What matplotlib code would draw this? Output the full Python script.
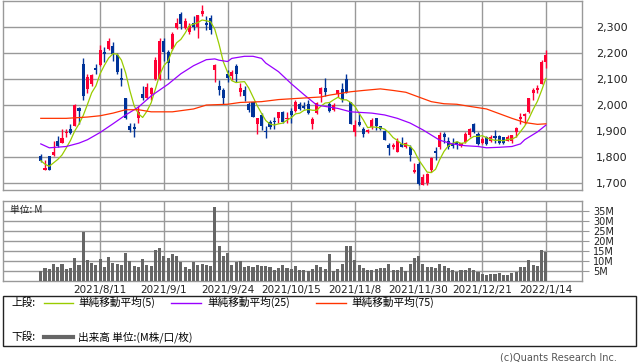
import matplotlib
matplotlib.use("Agg")
import matplotlib.pyplot as plt
from matplotlib.lines import Line2D
from matplotlib.patches import Rectangle
import numpy as np
import pandas as pd

# ---------------- data ----------------
opens = [1805,1751,1803,1808,1862,1856,1892,1910,1921,1987,
         2159,2062,2079,2141,2154,2205,2215,2228,2192,2105,
         2028,1921,1915,1949,2044,2026,2044,2100,2100,2246,
         2203,2215,2295,2351,2295,2282,2313,2300,2349,2313,
         2333,2136,2074,2056,2121,2113,2151,2049,2056,2005,
         2013,1928,1962,1900,1936,1938,1951,1972,1946,1977,
         1977,2005,1995,2005,1926,1969,2041,2067,2005,1982,
         2044,2062,2100,2010,1895,1936,1908,1895,1915,1951,
         1918,1900,1846,1838,1821,1851,1841,1841,1744,1772,
         1695,1700,1749,1823,1841,1890,1862,1856,1859,1844,
         1859,1885,1926,1890,1856,1877,1862,1882,1882,1877,
         1864,1864,1895,1946,1959,1972,2046,2059,2082,2164]
highs = [1813,1790,1806,1862,1880,1908,1908,1928,2005,1992,
         2179,2121,2121,2156,2231,2221,2256,2241,2200,2144,
         2028,1931,1931,1995,2074,2085,2069,2185,2256,2256,
         2213,2282,2333,2356,2333,2315,2341,2344,2382,2341,
         2344,2159,2097,2067,2136,2136,2156,2085,2074,2013,
         2013,1949,1969,1921,1941,1954,1974,1977,1974,1987,
         2018,2010,2010,2021,1956,2013,2069,2105,2010,2008,
         2059,2085,2121,2013,1941,1969,1915,1908,1949,1951,
         1921,1905,1856,1854,1872,1879,1859,1846,1777,1782,
         1736,1738,1800,1841,1895,1897,1877,1872,1864,1856,
         1897,1913,1933,1895,1879,1882,1885,1905,1887,1879,
         1885,1887,1915,1969,1969,2028,2067,2077,2172,2210]
lows = [1783,1749,1749,1803,1841,1854,1877,1890,1918,1928,
        2018,2046,2074,2121,2151,2164,2213,2169,2121,2074,
        1946,1897,1879,1933,2021,2023,2021,2097,2097,2169,
        2100,2213,2292,2292,2290,2272,2287,2256,2341,2287,
        2272,2087,2038,2005,2090,2095,2090,2033,2015,1974,
        1954,1890,1905,1872,1910,1910,1933,1933,1933,1933,
        1972,1980,1985,1964,1910,1967,2013,2033,1972,1977,
        2031,2010,2046,1926,1882,1918,1879,1892,1910,1905,
        1905,1867,1810,1833,1818,1838,1836,1787,1738,1695,
        1692,1692,1744,1790,1833,1856,1833,1836,1833,1838,
        1854,1879,1892,1846,1851,1846,1859,1856,1851,1849,
        1862,1856,1879,1926,1926,1969,2018,2046,2079,2141]
closes = [1787,1759,1749,1818,1844,1872,1895,1892,2000,1977,
          2036,2108,2115,2133,2213,2195,2246,2197,2126,2097,
          1949,1903,1910,1974,2026,2069,2064,2172,2246,2203,
          2162,2271,2313,2310,2323,2305,2300,2344,2359,2308,
          2287,2154,2056,2026,2105,2126,2118,2067,2033,1982,
          1956,1949,1921,1895,1915,1936,1972,1936,1951,1962,
          2010,1985,1990,1969,1946,2008,2067,2049,1977,2000,
          2056,2018,2049,1928,1923,1923,1890,1903,1941,1918,
          1910,1867,1836,1846,1862,1841,1856,1808,1751,1697,
          1723,1736,1797,1815,1887,1877,1841,1844,1849,1854,
          1890,1910,1895,1849,1869,1851,1879,1874,1854,1856,
          1879,1885,1913,1956,1964,2026,2059,2067,2167,2192]
volumes = [4.8,6.5,5.8,8.3,7.0,8.3,6.0,6.5,11.5,8.0,
           24.5,10.3,8.8,8.0,10.8,7.0,12.0,8.8,8.3,8.0,
           13.8,9.8,7.5,7.0,11.0,8.0,7.5,15.3,16.3,12.3,
           11.3,13.3,12.3,9.5,6.8,5.8,9.5,8.0,8.3,8.0,
           7.5,36.8,17.5,12.5,14.0,8.0,9.3,9.8,7.0,7.5,
           7.0,7.8,7.3,7.3,7.0,5.5,6.5,7.8,6.5,6.0,
           7.5,5.5,5.5,4.8,6.0,7.8,6.7,6.0,13.3,4.8,
           5.8,8.3,17.5,17.5,10.3,8.0,6.5,5.2,5.2,5.8,
           6.5,6.5,8.2,5.2,5.3,6.8,4.8,8.2,11.5,12.3,
           8.3,6.8,6.8,6.2,8.3,7.2,6.2,5.2,4.2,5.2,
           5.2,6.2,5.2,4.2,3.2,3.0,3.2,3.5,3.8,3.0,
           3.0,3.8,4.2,7.0,7.0,10.3,8.0,7.5,15.3,14.3]

ma25_idx = [0,2,6,9,11,14,17,20,23,26,30,33,36,39,41,42,44,45,48,50,
            52,53,56,59,62,65,70,73,78,81,84,87,90,94,97,100,103,105,
            108,111,113,114,117,119]
ma25_val = [1851,1836,1841,1854,1867,1895,1928,1962,1992,2035,2080,2120,
            2151,2174,2177,2172,2167,2179,2187,2187,2179,2161,2128,2082,
            2040,2000,1987,1974,1969,1962,1949,1931,1905,1865,1851,1844,
            1841,1836,1838,1841,1851,1867,1897,1923]
ma75_idx = [0,6,11,14,17,20,23,26,31,36,39,44,47,52,56,61,66,68,73,76,
            80,83,86,89,92,95,98,101,105,108,111,114,117,119]
ma75_val = [1949,1949,1954,1959,1969,1982,1982,1974,1974,1985,2000,2003,
            2010,2013,2021,2026,2031,2038,2051,2056,2062,2056,2049,2031,
            2013,2005,2003,1995,1985,1967,1949,1933,1926,1928]

tick_idx = [14, 29, 44, 59, 74, 89, 104, 119]
tick_labels = ["2021/8/11", "2021/9/1", "2021/9/24", "2021/10/15",
               "2021/11/8", "2021/11/30", "2021/12/21", "2022/1/14"]
price_ticks = [1700, 1800, 1900, 2000, 2100, 2200, 2300]
vol_ticks = [5, 10, 15, 20, 25, 30, 35]

# ---------------- style ----------------
RED = "#FF0033"
BLUE = "#003399"
C_MA5 = "#99CC00"
C_MA25 = "#9900FF"
C_MA75 = "#FF3300"
GRID = "#999999"
JP = ["Noto Sans CJK JP", "DejaVu Sans"]

W, H = 638, 362
fig = plt.figure(figsize=(W / 100, H / 100), dpi=100)


def rect(l, t, r, b):
    return [l / W, 1 - b / H, (r - l) / W, (b - t) / H]


ax = fig.add_axes(rect(3, 0.5, 582, 190.3))
axv = fig.add_axes(rect(3, 201, 582, 280.7))

x = np.arange(len(closes))
o = np.array(opens, float)
c = np.array(closes, float)
hi = np.array(highs, float)
lo = np.array(lows, float)
up = c >= o
cols = np.where(up, RED, BLUE)

XL = (-8.9, 127.5)
for a in (ax, axv):
    a.set_xlim(*XL)
    for s in a.spines.values():
        s.set_color(GRID)
        s.set_linewidth(1.0)
    a.set_facecolor("white")

# grid
ax.set_ylim(1673, 2401)
for p in price_ticks:
    ax.axhline(p, color=GRID, lw=1.0, zorder=0)
for t in tick_idx:
    ax.axvline(t, color=GRID, lw=1.0, zorder=0)
    axv.axvline(t, color=GRID, lw=1.0, zorder=0)

# wicks & bodies
ax.vlines(x, lo, hi, colors=cols, lw=1.0, zorder=3)
body_bot = np.minimum(o, c)
body_h = np.maximum(np.abs(c - o), 3)
ax.bar(x, body_h, bottom=body_bot, width=0.72, color=cols, edgecolor=cols,
       linewidth=0, zorder=4)

# moving averages
ma5 = pd.Series(closes).rolling(5, min_periods=1).mean()
ax.plot(x, ma5, color=C_MA5, lw=0.9, zorder=5)
ax.plot(ma25_idx, ma25_val, color=C_MA25, lw=0.9, zorder=5)
ax.plot(ma75_idx, ma75_val, color=C_MA75, lw=0.9, zorder=5)

ax.yaxis.tick_right()
ax.set_yticks(price_ticks)
ax.set_yticklabels([f"{p:,}" for p in price_ticks])
ax.tick_params(axis="y", length=0, pad=10, labelsize=8, labelcolor="#222222")
ax.set_xticks([])

# volume
axv.set_ylim(0, 39.85)
for v in vol_ticks:
    axv.axhline(v, color=GRID, lw=1.0, zorder=0)
axv.bar(x, volumes, width=0.72, color="#666666", linewidth=0, zorder=3)
axv.yaxis.tick_right()
axv.set_yticks(vol_ticks)
axv.set_yticklabels([f"{v}M" for v in vol_ticks])
axv.tick_params(axis="y", length=5, width=0.8, color=GRID, pad=3,
                labelsize=7, labelcolor="#222222")
axv.set_xticks(tick_idx)
axv.set_xticklabels(tick_labels)
axv.tick_params(axis="x", length=0, pad=3, labelsize=7.5, labelcolor="#222222")
axv.text(0.012, 0.89, "単位: M", transform=axv.transAxes, fontsize=7,
         family=JP, ha="left", va="center", color="#222222", zorder=1)

# legend box
fig.patches.append(Rectangle((3 / W, 1 - 346 / H), (636 - 3) / W, (346 - 296) / H,
                             transform=fig.transFigure, fill=False,
                             edgecolor="#222222", lw=1.0))


def fx(px):
    return px / W


def fy(py):
    return 1 - py / H


y1, y2 = 302.5, 337
LFS = 7.7
fig.text(fx(11), fy(y1), "上段:", family=JP, fontsize=LFS, va="center", ha="left")
for (l0, l1, col, t0, lab) in [(44, 73, C_MA5, 78, "単純移動平均(5)"),
                               (171, 201, C_MA25, 207, "単純移動平均(25)"),
                               (316, 346, C_MA75, 351, "単純移動平均(75)")]:
    fig.add_artist(Line2D([fx(l0), fx(l1)], [fy(y1), fy(y1)], color=col, lw=1.0,
                          transform=fig.transFigure))
    fig.text(fx(t0), fy(y1), lab, family=JP, fontsize=LFS, va="center", ha="left")

fig.text(fx(11), fy(y2), "下段:", family=JP, fontsize=LFS, va="center", ha="left")
fig.add_artist(Line2D([fx(44), fx(73)], [fy(y2), fy(y2)], color="#666666", lw=3.0,
                      transform=fig.transFigure))
fig.text(fx(78), fy(y2), "出来高 単位:(M株/口/枚)", family=JP, fontsize=LFS,
         va="center", ha="left")

fig.text(fx(617), fy(357.5), "(c)Quants Research Inc.", fontsize=7,
         color="#555555", ha="right", va="center")

fig.savefig("out.png", dpi=100, facecolor="white")
